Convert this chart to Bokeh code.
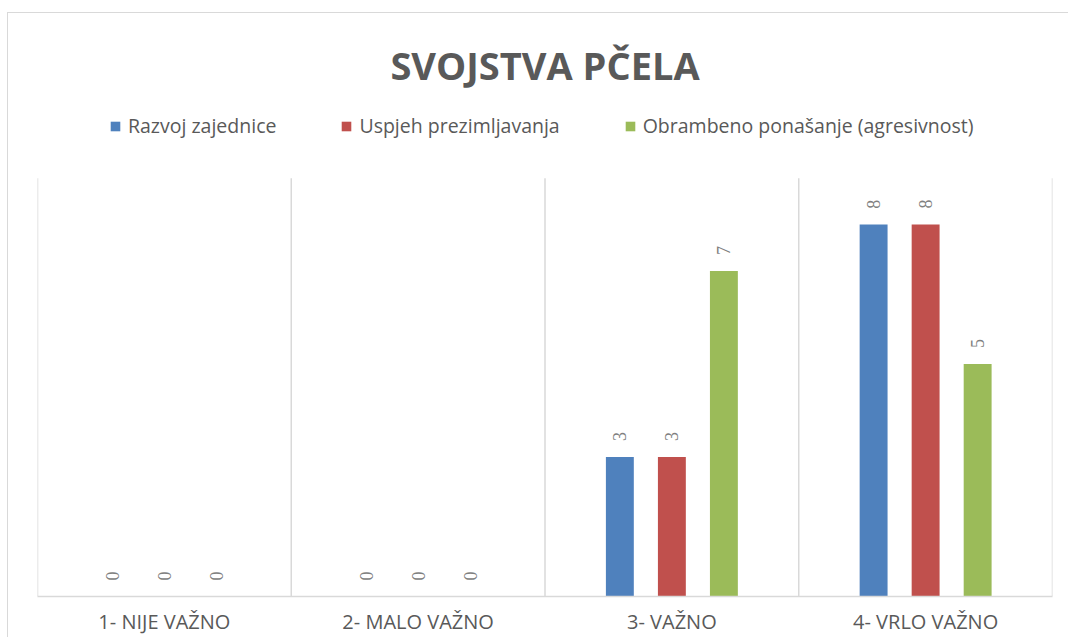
import math
from bokeh.plotting import figure
from bokeh.models import ColumnDataSource, Legend, LegendItem, LabelSet, FixedTicker
from bokeh.transform import dodge
from bokeh.embed import file_html
from bokeh.resources import INLINE

categories = ["1- NIJE VAŽNO", "2- MALO VAŽNO", "3- VAŽNO", "4- VRLO VAŽNO"]
series_names = ["Razvoj zajednice", "Uspjeh prezimljavanja", "Obrambeno ponašanje (agresivnost)"]
razvoj = [0, 0, 3, 8]
uspjeh = [0, 0, 3, 8]
obrambeno = [0, 0, 7, 5]
colors = ["#4F81BD", "#C0504D", "#9BBB59"]
y_axis_max = 9

ncat = len(categories)
xpos = [i + 0.5 for i in range(ncat)]
src = ColumnDataSource(dict(
    x=xpos, razvoj=razvoj, uspjeh=uspjeh, obrambeno=obrambeno,
    l_razvoj=[str(v) for v in razvoj],
    l_uspjeh=[str(v) for v in uspjeh],
    l_obrambeno=[str(v) for v in obrambeno],
))

p = figure(frame_width=1015, frame_height=496, x_range=(0, ncat), y_range=(0, 10.67),
           output_backend="svg", toolbar_location=None,
           min_border_left=37, min_border_right=16, min_border_bottom=38,
           min_border_top=100)

# light chart-area border (left and top edges), drawn behind a transparent canvas border
p.border_fill_color = None
p.styles = {
    "background": ("linear-gradient(#d9d9d9, #d9d9d9) 7px 12px / 1px 100% no-repeat, "
                   "linear-gradient(#d9d9d9, #d9d9d9) 7px 12px / 100% 1px no-repeat, #ffffff"),
}

p.title.text = "SVOJSTVA PČELA"
p.title.align = "center"
p.title.text_font = "Open Sans"
p.title.text_font_style = "bold"
p.title.text_font_size = "38px"
p.title.text_color = "#595959"
p.title.standoff = 19

# category separators
bounds = list(range(ncat + 1))
p.segment(x0=bounds, y0=[0] * len(bounds), x1=bounds, y1=[y_axis_max] * len(bounds),
          line_color="#d9d9d9", line_width=1.5)

offsets = [-0.205, 0.0, 0.205]
fields = ["razvoj", "uspjeh", "obrambeno"]
items = []
for off, fld, col, name in zip(offsets, fields, colors, series_names):
    r = p.vbar(x=dodge("x", off), top=fld, width=0.11, source=src,
               fill_color=col, line_color=None)
    items.append(LegendItem(label=name, renderers=[r]))
    lbl = LabelSet(x=dodge("x", off), y=fld, text="l_" + fld, source=src,
                   angle=math.pi / 2, text_align="left", text_baseline="middle",
                   y_offset=16, text_font="Open Sans", text_font_size="18px",
                   text_color="#808080")
    p.add_layout(lbl)

legend = Legend(items=items, orientation="horizontal", location=(72, 457),
                glyph_width=12, glyph_height=12, label_standoff=7, spacing=64,
                label_text_font="Open Sans", label_text_font_size="19.5px",
                label_text_color="#595959", border_line_color=None,
                background_fill_alpha=0, padding=0, margin=0)
p.add_layout(legend, "center")

p.yaxis.visible = False
p.ygrid.grid_line_color = None
p.xgrid.grid_line_color = None

p.xaxis.ticker = FixedTicker(ticks=xpos)
p.xaxis.major_label_overrides = {x: c for x, c in zip(xpos, categories)}
p.xaxis.major_tick_line_color = None
p.xaxis.minor_tick_line_color = None
p.xaxis.major_tick_out = 0
p.xaxis.minor_tick_out = 0
p.xaxis.major_tick_in = 0
p.xaxis.axis_line_color = "#d9d9d9"
p.xaxis.axis_line_width = 1.5
p.xaxis.major_label_text_font = "Open Sans"
p.xaxis.major_label_text_font_size = "20px"
p.xaxis.major_label_text_color = "#595959"
p.xaxis.major_label_standoff = 11

p.outline_line_color = None

open("out.html", "w").write(file_html(p, INLINE))
